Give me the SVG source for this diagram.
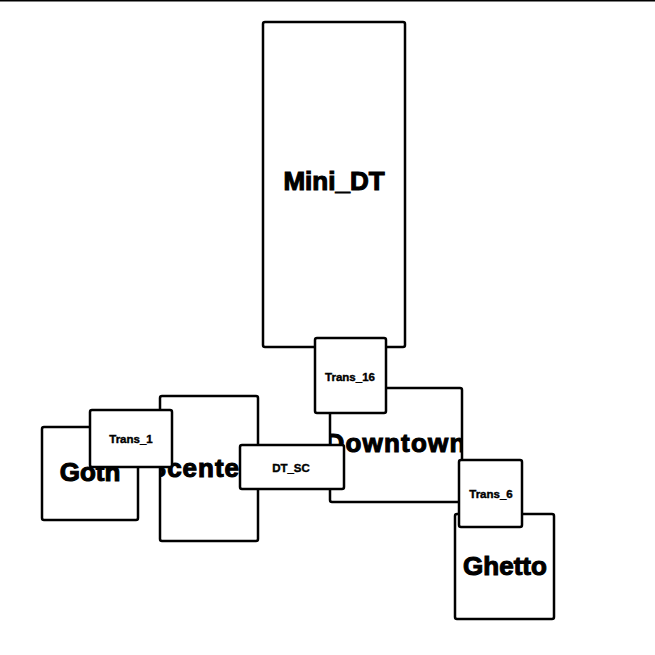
<svg xmlns="http://www.w3.org/2000/svg" width="655" height="655" viewBox="0 0 655 655">
<style>
rect.n{fill:#fff;stroke:#000;stroke-width:2.5}
text{font-family:"Liberation Sans",Arial,sans-serif;font-weight:bold;fill:#000;stroke:#000;text-anchor:middle;dominant-baseline:central}
.big{font-size:26px;stroke-width:1.1}
.sm{font-size:11.5px;stroke-width:0.4}
</style>
<defs>
<clipPath id="cDowntown"><rect x="330" y="388" width="132" height="114"/></clipPath>
<clipPath id="cScenter"><rect x="160" y="396" width="98" height="145"/></clipPath>
</defs>
<line x1="0" y1="0.5" x2="655" y2="0.5" stroke="#000" stroke-width="2"/>
<g id="connectors"></g>
<g id="Mini_DT"><rect class="n" x="263" y="22" width="142" height="325" rx="2"/><text class="big" x="334" y="181">Mini_DT</text></g>
<g id="Downtown"><rect class="n" x="330" y="388" width="132" height="114" rx="2"/><text class="big" x="396" y="443" letter-spacing="1.2" clip-path="url(#cDowntown)">Downtown</text></g>
<g id="Trans_16"><rect class="n" x="315" y="338" width="71" height="75" rx="2"/><text class="sm" x="350" y="377">Trans_16</text></g>
<g id="Goth"><rect class="n" x="42" y="427" width="96" height="93" rx="2"/><text class="big" x="90" y="472">Goth</text></g>
<g id="Scenter"><rect class="n" x="160" y="396" width="98" height="145" rx="2"/><text class="big" x="200" y="468" letter-spacing="1" clip-path="url(#cScenter)">Scenter</text></g>
<g id="Trans_1"><rect class="n" x="90" y="410" width="82" height="57" rx="2"/><text class="sm" x="131" y="439">Trans_1</text></g>
<g id="DT_SC"><rect class="n" x="240" y="445" width="104" height="44" rx="2"/><text class="sm" x="291" y="468">DT_SC</text></g>
<g id="Ghetto"><rect class="n" x="455" y="514" width="99" height="105" rx="2"/><text class="big" x="505" y="566">Ghetto</text></g>
<g id="Trans_6"><rect class="n" x="459" y="460" width="63" height="67" rx="2"/><text class="sm" x="491" y="494">Trans_6</text></g>
</svg>
